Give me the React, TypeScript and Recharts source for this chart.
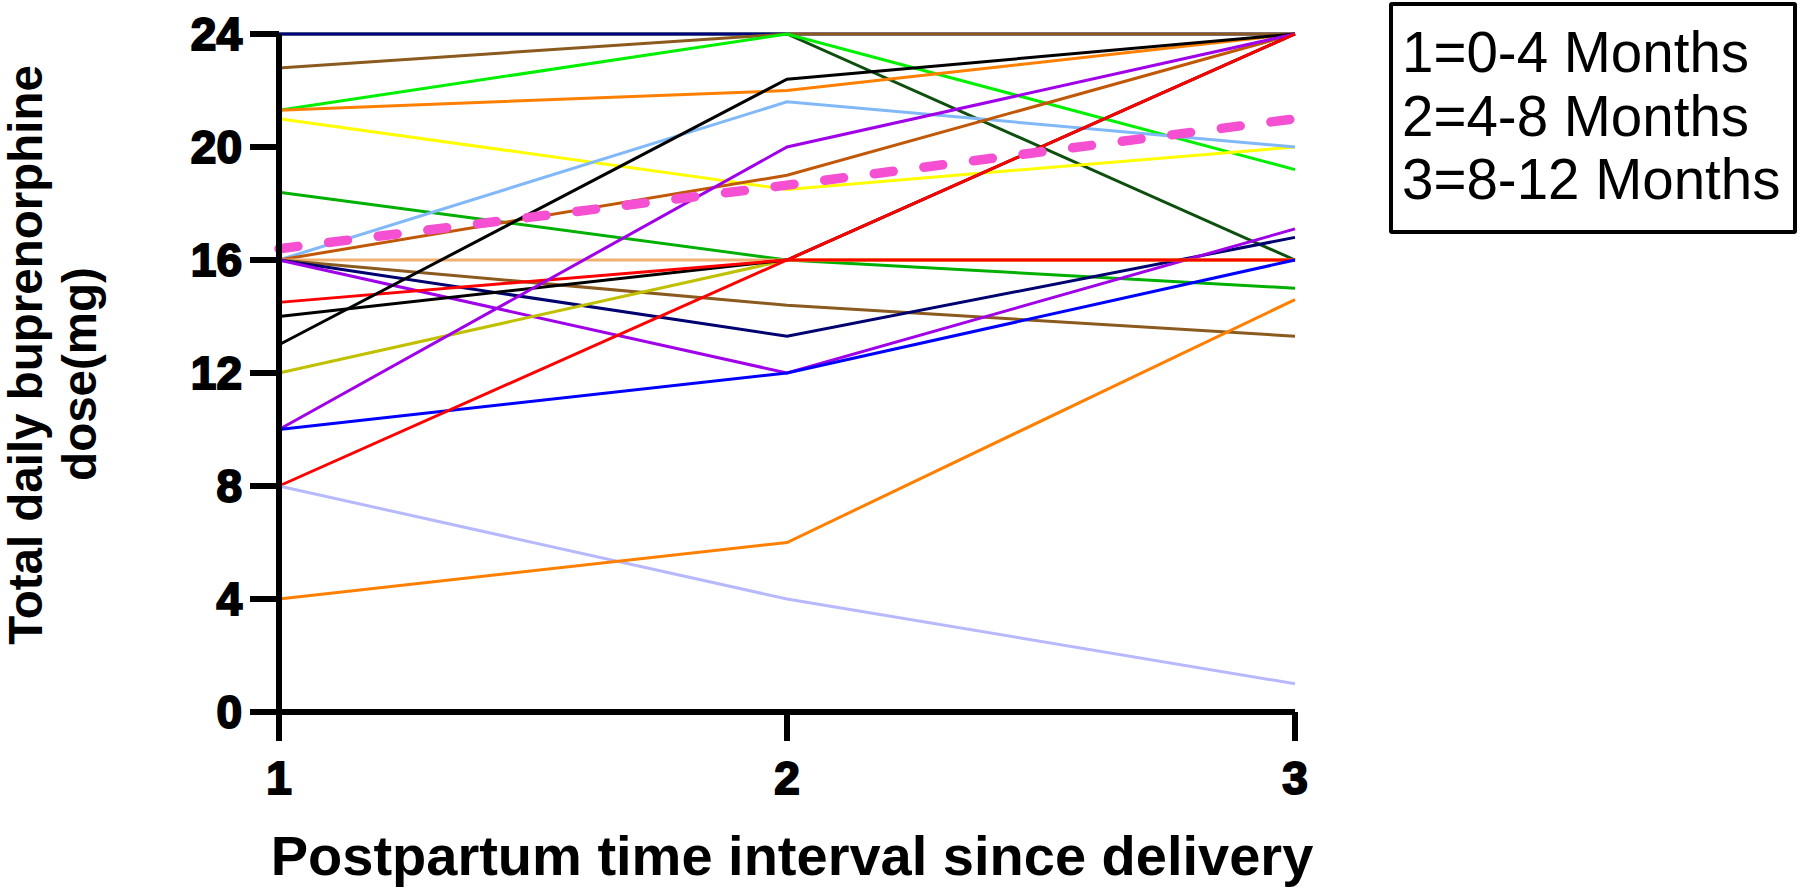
import React from "react"
import { LineChart, Line, XAxis, YAxis, Legend } from "recharts"

// x positions: postpartum interval (1 = 0-4, 2 = 4-8, 3 = 8-12 months)
const periods = [1, 2, 3]
const yTicks = [0, 4, 8, 12, 16, 20, 24]
const legendLines = ["1=0-4 Months", "2=4-8 Months", "3=8-12 Months"]

// one array per patient, dose (mg) at periods 1, 2, 3
const p01 = [24, 24, 16]
const p02 = [24, 24, 24]
const p03 = [22.8, 24, 24]
const p04 = [21.3, 24, 19.2]
const p05 = [21.3, 22, 24]
const p06 = [21, 18.5, 20]
const p07 = [18.4, 16, 15]
const p08 = [16, 21.6, 20]
const p09 = [16, 19, 24]
const p10 = [16, 16, 16]
const p11 = [16, 14.4, 13.3]
const p12 = [16, 13.3, 16.8]
const p13 = [16, 12, 17.1]
const p14 = [12, 16, 16]
const p15 = [14, 16, 24]
const p16 = [14.5, 16, 16]
const p17 = [13, 22.4, 24]
const p18 = [10, 20, 24]
const p19 = [10, 12, 16]
const p20 = [8, 16, 24]
const p21 = [8, 4, 1]
const p22 = [4, 6, 14.6]
const meanDose = [16.4, 18.65, 21]

const patients = [p01, p02, p03, p04, p05, p06, p07, p08, p09, p10, p11, p12, p13, p14, p15, p16, p17, p18, p19, p20, p21, p22]

const colors = [
  "#0d4f0d", "#000080", "#8b5a1e", "#00f000", "#ff7f00", "#ffff00",
  "#00b000", "#80b8f8", "#c05808", "#f0b070", "#8b5a1e", "#000070",
  "#a000e8", "#c0c000", "#000000", "#ff0000", "#000000", "#a000e8",
  "#0000ff", "#ff0000", "#b8b8ff", "#ff7f00",
]

const data = periods.map((t, i) => {
  const row: Record<string, number> = { t, mean: meanDose[i] }
  patients.forEach((p, k) => {
    row["p" + k] = p[i]
  })
  return row
})

const tickStyle = {
  fill: "#000",
  stroke: "#000",
  strokeWidth: 2,
  fontSize: 46,
  fontWeight: "bold",
  fontFamily: "Liberation Sans, Arial, sans-serif",
}

const titleFont = "Liberation Sans, Arial, sans-serif"

function YTitle() {
  return (
    <g>
      <text
        transform="translate(42, 355) rotate(-90)"
        textAnchor="middle"
        fontSize={47.5}
        fontWeight="bold"
        fontFamily={titleFont}
        fill="#000"
      >
        Total daily buprenorphine
      </text>
      <text
        transform="translate(96, 374) rotate(-90)"
        textAnchor="middle"
        fontSize={47.5}
        fontWeight="bold"
        fontFamily={titleFont}
        fill="#000"
      >
        dose(mg)
      </text>
    </g>
  )
}

function XTitle() {
  return (
    <text x={792} y={875} textAnchor="middle" fontSize={56} fontWeight="bold" fontFamily={titleFont} fill="#000">
      Postpartum time interval since delivery
    </text>
  )
}

function LegendBox() {
  return (
    <div
      style={{
        boxSizing: "border-box",
        width: 408,
        height: 232,
        border: "4px solid #000",
        borderRadius: 3,
        padding: "15px 0 0 9px",
        fontFamily: titleFont,
        fontSize: 56.5,
        lineHeight: "63.5px",
        color: "#000",
        background: "#fff",
      }}
    >
      {legendLines.map((l) => (
        <div key={l} style={{ whiteSpace: "nowrap" }}>{l}</div>
      ))}
    </div>
  )
}

export default function App() {
  return (
    <div style={{ position: "absolute", left: 0, top: 0, width: 1800, height: 894, background: "#fff" }}>
      <LineChart width={1800} height={894} data={data} margin={{ top: 34, right: 505, bottom: 0, left: 0 }}>
        <XAxis
          dataKey="t"
          type="number"
          domain={[1, 3]}
          ticks={periods}
          height={182}
          tickSize={29}
          tickMargin={20}
          axisLine={{ stroke: "#000", strokeWidth: 6 }}
          tickLine={{ stroke: "#000", strokeWidth: 6 }}
          tick={tickStyle}
          label={<XTitle />}
        />
        <YAxis
          type="number"
          domain={[0, 24]}
          ticks={yTicks}
          width={279}
          tickSize={29}
          tickMargin={8}
          interval={0}
          axisLine={{ stroke: "#000", strokeWidth: 6 }}
          tickLine={{ stroke: "#000", strokeWidth: 6 }}
          tick={tickStyle}
          label={<YTitle />}
        />
        <Legend
          content={() => <LegendBox />}
          wrapperStyle={{ position: "absolute", left: 1389, top: 2, width: 408, height: 0, overflow: "visible" }}
        />
        {patients.map((_, k) => (
          <Line
            key={k}
            type="linear"
            dataKey={"p" + k}
            stroke={colors[k]}
            strokeWidth={3}
            dot={false}
            activeDot={false}
            isAnimationActive={false}
            legendType="none"
          />
        ))}
        <Line
          type="linear"
          dataKey="mean"
          stroke="#f54fd2"
          strokeWidth={9.5}
          strokeDasharray="19 31"
          strokeLinecap="round"
          dot={false}
          activeDot={false}
          isAnimationActive={false}
          legendType="none"
        />
      </LineChart>
    </div>
  )
}
